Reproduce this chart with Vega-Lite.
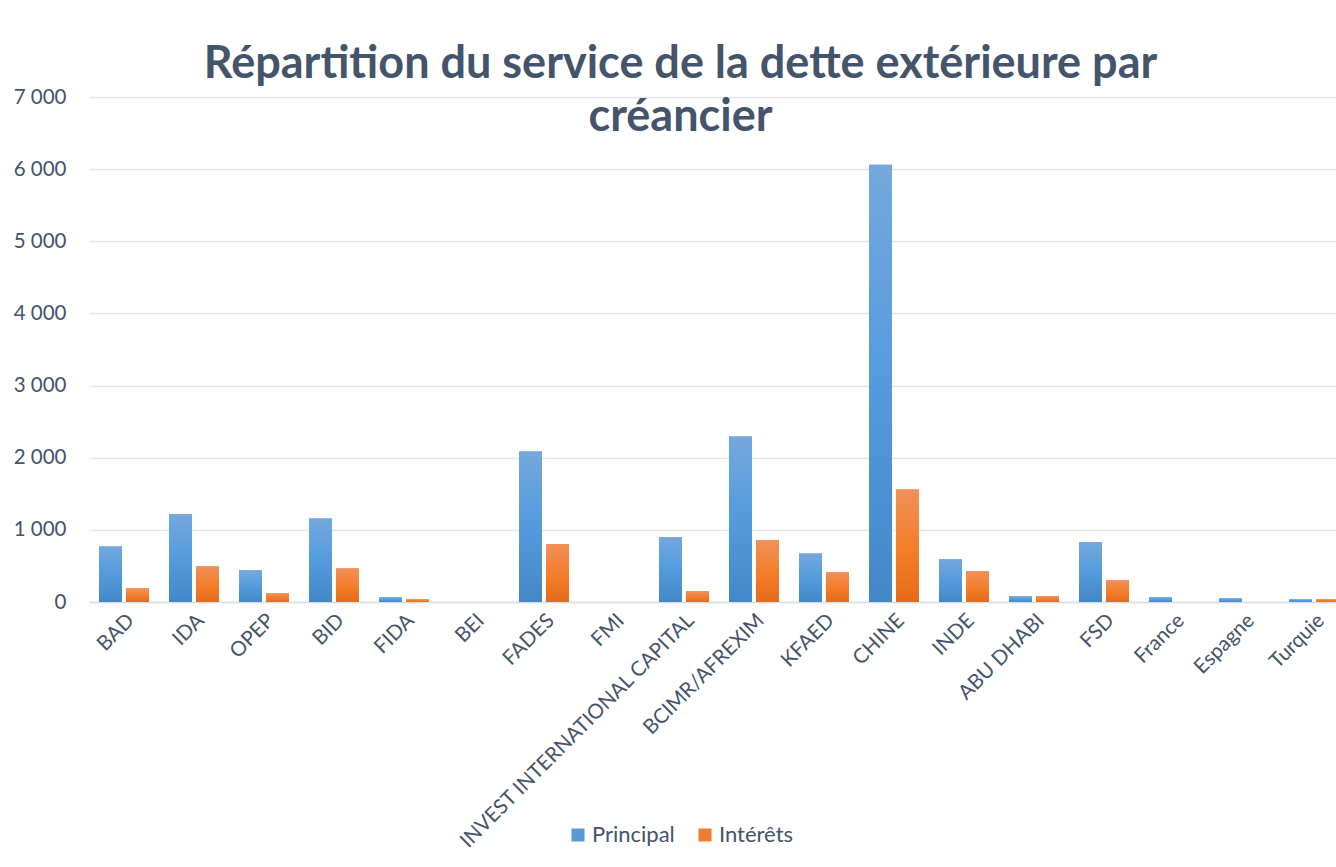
{
  "$schema": "https://vega.github.io/schema/vega-lite/v6.json",
  "width": 1247,
  "height": 505,
  "autosize": {"type": "none"},
  "padding": {"left": 89, "top": 97, "right": 0, "bottom": 265},
  "background": "white",
  "title": {
    "text": ["Répartition du service de la dette extérieure par", "créancier"],
    "font": "Lato",
    "fontWeight": "bold",
    "fontSize": 45,
    "color": "#44546A",
    "anchor": "middle",
    "frame": "group",
    "dx": -32,
    "offset": -53,
    "lineHeight": 53
  },
  "data": {
    "values": [
      {"creancier": "BAD", "serie": "Principal", "valeur": 771},
      {"creancier": "BAD", "serie": "Intérêts", "valeur": 190},
      {"creancier": "IDA", "serie": "Principal", "valeur": 1215},
      {"creancier": "IDA", "serie": "Intérêts", "valeur": 494},
      {"creancier": "OPEP", "serie": "Principal", "valeur": 439},
      {"creancier": "OPEP", "serie": "Intérêts", "valeur": 120},
      {"creancier": "BID", "serie": "Principal", "valeur": 1159},
      {"creancier": "BID", "serie": "Intérêts", "valeur": 466},
      {"creancier": "FIDA", "serie": "Principal", "valeur": 65},
      {"creancier": "FIDA", "serie": "Intérêts", "valeur": 37},
      {"creancier": "BEI", "serie": "Principal", "valeur": 0},
      {"creancier": "BEI", "serie": "Intérêts", "valeur": 0},
      {"creancier": "FADES", "serie": "Principal", "valeur": 2087},
      {"creancier": "FADES", "serie": "Intérêts", "valeur": 799},
      {"creancier": "FMI", "serie": "Principal", "valeur": 0},
      {"creancier": "FMI", "serie": "Intérêts", "valeur": 0},
      {"creancier": "INVEST INTERNATIONAL CAPITAL", "serie": "Principal", "valeur": 896},
      {"creancier": "INVEST INTERNATIONAL CAPITAL", "serie": "Intérêts", "valeur": 148},
      {"creancier": "BCIMR/AFREXIM", "serie": "Principal", "valeur": 2295},
      {"creancier": "BCIMR/AFREXIM", "serie": "Intérêts", "valeur": 855},
      {"creancier": "KFAED", "serie": "Principal", "valeur": 674},
      {"creancier": "KFAED", "serie": "Intérêts", "valeur": 411},
      {"creancier": "CHINE", "serie": "Principal", "valeur": 6062},
      {"creancier": "CHINE", "serie": "Intérêts", "valeur": 1561},
      {"creancier": "INDE", "serie": "Principal", "valeur": 591},
      {"creancier": "INDE", "serie": "Intérêts", "valeur": 425},
      {"creancier": "ABU DHABI", "serie": "Principal", "valeur": 79},
      {"creancier": "ABU DHABI", "serie": "Intérêts", "valeur": 79},
      {"creancier": "FSD", "serie": "Principal", "valeur": 827},
      {"creancier": "FSD", "serie": "Intérêts", "valeur": 300},
      {"creancier": "France", "serie": "Principal", "valeur": 65},
      {"creancier": "France", "serie": "Intérêts", "valeur": 0},
      {"creancier": "Espagne", "serie": "Principal", "valeur": 51},
      {"creancier": "Espagne", "serie": "Intérêts", "valeur": 0},
      {"creancier": "Turquie", "serie": "Principal", "valeur": 37},
      {"creancier": "Turquie", "serie": "Intérêts", "valeur": 37}
    ]
  },
  "encoding": {
    "x": {
      "field": "creancier",
      "type": "nominal",
      "sort": null,
      "scale": {"range": [0, 1260], "paddingInner": 0.2857, "paddingOuter": 0.1429},
      "axis": {
        "title": null,
        "labelAngle": -45,
        "labelFont": "Lato",
        "labelFontSize": 20.5,
        "labelColor": "#44546A",
        "labelOverlap": false,
        "labelLimit": 0,
        "labelPadding": 8,
        "ticks": false,
        "domain": true,
        "domainColor": "#D9DEE6",
        "domainWidth": 1.5,
        "grid": false
      }
    },
    "xOffset": {
      "field": "serie",
      "type": "nominal",
      "sort": ["Principal", "Intérêts"],
      "scale": {"paddingInner": 0.148, "paddingOuter": 0}
    },
    "y": {
      "field": "valeur",
      "type": "quantitative",
      "scale": {"domain": [0, 7000], "nice": false},
      "axis": {
        "title": null,
        "values": [0, 1000, 2000, 3000, 4000, 5000, 6000, 7000],
        "labelExpr": "replace(format(datum.value, ','), ',', ' ')",
        "labelFont": "Lato",
        "labelFontSize": 20.5,
        "labelColor": "#44546A",
        "labelPadding": 23,
        "ticks": false,
        "domain": false,
        "grid": true,
        "gridColor": "#E2E6EC",
        "gridWidth": 1.5
      }
    }
  },
  "layer": [
    {
      "mark": {"type": "bar"},
      "encoding": {
        "color": {
          "field": "serie",
          "type": "nominal",
          "sort": ["Principal", "Intérêts"],
          "scale": {"domain": ["Principal", "Intérêts"], "range": ["#5B9BD5", "#ED7D31"]},
          "legend": {
            "title": null,
            "orient": "none",
            "legendX": 478,
            "legendY": 727,
            "direction": "horizontal",
            "symbolType": "square",
            "symbolSize": 170,
            "symbolStrokeWidth": 0,
            "labelFont": "Lato",
            "labelFontSize": 22,
            "labelColor": "#44546A",
            "labelOffset": 3,
            "columnPadding": 19
          }
        }
      }
    },
    {
      "transform": [{"filter": "datum.serie === 'Principal'"}],
      "mark": {
        "type": "bar",
        "color": {
          "gradient": "linear",
          "x1": 0, "y1": 0, "x2": 0, "y2": 1,
          "stops": [
            {"offset": 0, "color": "#75A8DD"},
            {"offset": 0.5, "color": "#549BDD"},
            {"offset": 1, "color": "#4487C7"}
          ]
        }
      }
    },
    {
      "transform": [{"filter": "datum.serie === 'Intérêts'"}],
      "mark": {
        "type": "bar",
        "color": {
          "gradient": "linear",
          "x1": 0, "y1": 0, "x2": 0, "y2": 1,
          "stops": [
            {"offset": 0, "color": "#F0905A"},
            {"offset": 0.5, "color": "#F47F2C"},
            {"offset": 1, "color": "#E46B1A"}
          ]
        }
      }
    }
  ],
  "config": {"view": {"stroke": null}}
}
